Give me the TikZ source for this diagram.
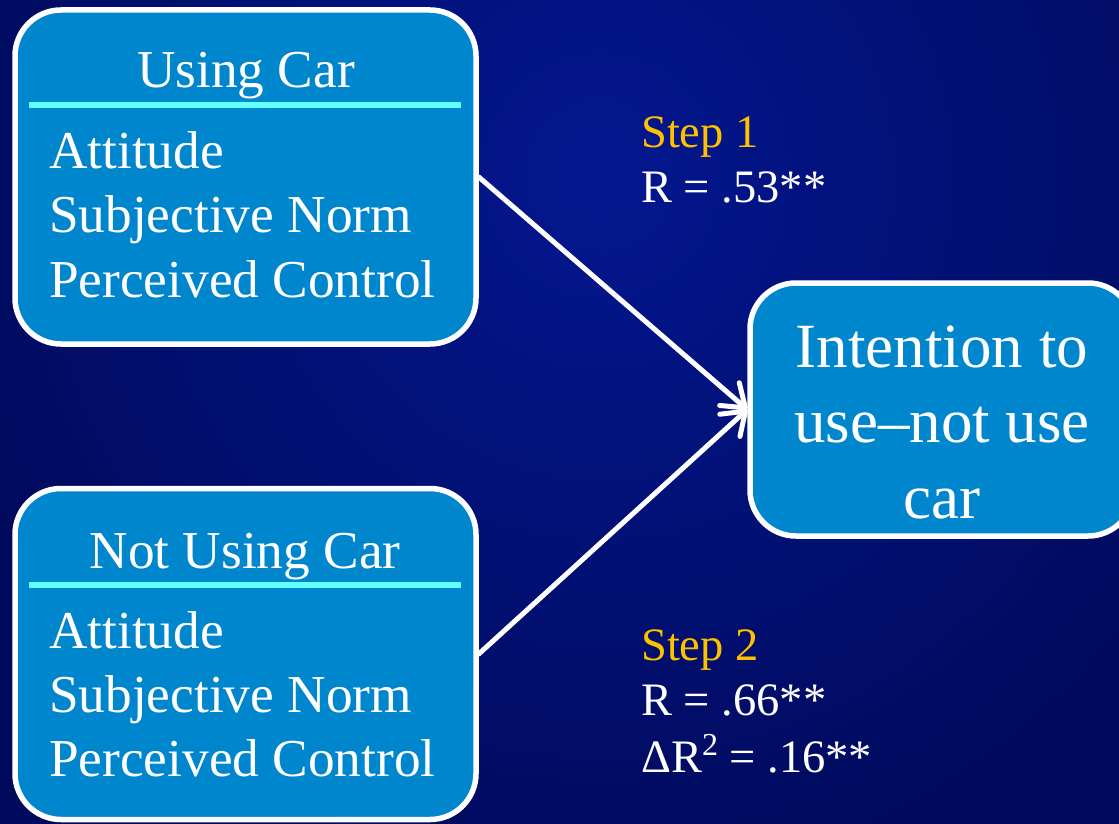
\documentclass[tikz,border=0pt]{standalone}
\usepackage{fontspec}
\setmainfont{Liberation Serif}
\usetikzlibrary{arrows.meta}
\definecolor{bgin}{HTML}{03178F}
\definecolor{bgout}{HTML}{000A5C}
\definecolor{boxfill}{HTML}{0086CC}
\definecolor{rulec}{HTML}{66FFFF}
\definecolor{stepc}{HTML}{FFC000}
\tikzset{
  panel/.style={draw=white, line width=5.5pt, fill=boxfill, rounded corners=46pt, inner sep=0pt},
  txt/.style={text=white, inner sep=0pt, font=\fontsize{53.3}{64}\selectfont},
  big/.style={text=white, inner sep=0pt, font=\fontsize{63}{75}\selectfont},
  stat/.style={text=white, inner sep=0pt, anchor=base west, font=\fontsize{46.5}{55}\selectfont},
  steplabel/.style={stat, text=stepc},
  divider/.style={draw=rulec, line width=6pt},
  link/.style={draw=white, line width=5pt, line cap=round,
    -{Straight Barb[length=21pt,width=30pt,line cap=round,line join=round]}},
}
\begin{document}
\begin{tikzpicture}[x=1pt,y=-1pt]
\useasboundingbox (0,0) rectangle (1119,824);
\clip (0,0) rectangle (1119,824);
\shade[inner color=bgin, outer color=bgout] (-100,-550) rectangle (1300,900);

% boxes
\node[panel, minimum width=461pt, minimum height=334pt] (use) at (245.5,177) {};
\node[panel, minimum width=461pt, minimum height=331pt] (notuse) at (245.5,654) {};
\node[panel, minimum width=384pt, minimum height=253pt] (intent) at (942,409.5) {};

% dividers
\draw[divider] (29,105) -- (461,105);
\draw[divider] (29,585) -- (461,585);

% box 1 text
\node[txt, anchor=base] (usetitle) at (246,88) {Using Car};
\node[txt, anchor=base west] (u1) at (49,168) {Attitude};
\node[txt, anchor=base west] (u2) at (49,232) {Subjective Norm};
\node[txt, anchor=base west] (u3) at (49,297) {Perceived Control};

% box 2 text
\node[txt, anchor=base] (notusetitle) at (245,568) {Not Using Car};
\node[txt, anchor=base west] (n1) at (49,648) {Attitude};
\node[txt, anchor=base west] (n2) at (49,712) {Subjective Norm};
\node[txt, anchor=base west] (n3) at (49,776) {Perceived Control};

% box 3 text
\node[big, anchor=base] (i1) at (942,367) {Intention to};
\node[big, anchor=base] (i2) at (942,442) {use–not use};
\node[big, anchor=base] (i3) at (942,518) {car};

% statistics
\node[steplabel] (s1) at (641,147) {Step 1};
\node[stat] (s1r) at (641,202) {R = .53**};
\node[steplabel] (s2) at (641,660) {Step 2};
\node[stat] (s2r) at (641,715) {R = .66**};
\node[stat] (s2d) at (641,772) {ΔR\raisebox{17pt}{\fontsize{32}{32}\selectfont 2} = .16**};

% connectors
\draw[link] (use.east) -- (intent.west);
\draw[link] (notuse.east) -- (intent.west);
\end{tikzpicture}
\end{document}
